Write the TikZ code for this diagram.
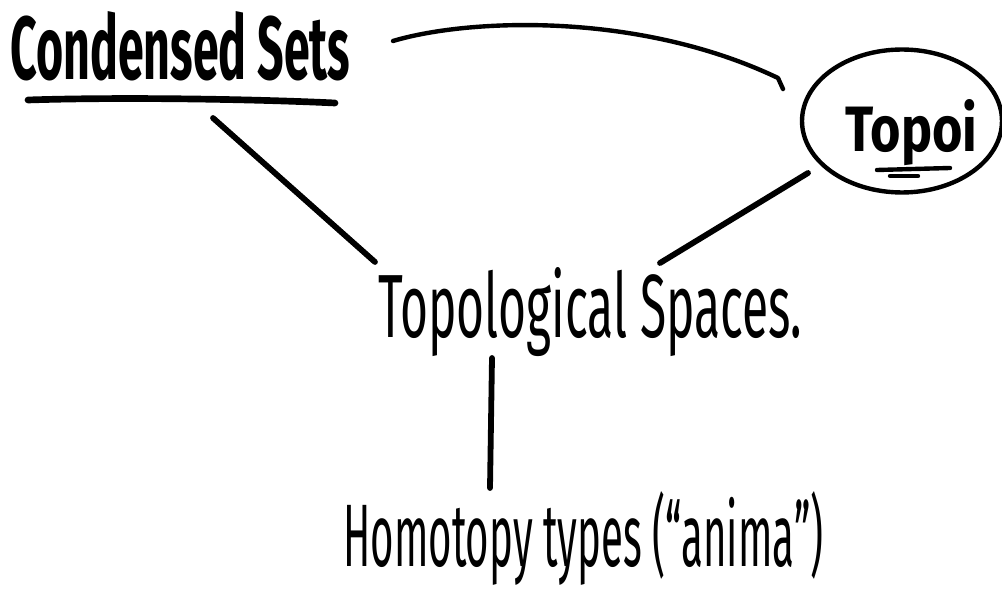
\documentclass[tikz,border=0pt]{standalone}
\usepackage{fontspec}
\setmainfont{Fira Sans}
\usetikzlibrary{shapes.geometric}
\tikzset{
  lbl/.style={inner sep=0pt, anchor=base west},
  heavy/.style={font=\bfseries},
  stroke/.style={line width=3.3pt, line cap=round, line join=round},
  thin stroke/.style={line width=2.5pt, line cap=round, line join=round},
}
\begin{document}
\begin{tikzpicture}[x=0.02cm, y=-0.02cm]
\useasboundingbox (0,0) rectangle (1002,594);
% text nodes
\node[lbl, heavy] (cs) at (10,80) {\resizebox{6.8cm}{1.36cm}{Condensed Sets}};
\node[lbl, heavy] (topoi) at (845,152) {\resizebox{2.64cm}{1.04cm}{Topoi}};
\node[lbl] (top) at (378,338) {\resizebox{8.48cm}{1.4cm}{Topological Spaces.}};
\node[lbl] (homo) at (343,567) {\resizebox{9.6cm}{1.5cm}{Homotopy types (“anima”)}};
% circle round Topoi
\node[ellipse, draw, line width=2.5pt, minimum width=4cm, minimum height=2.86cm, inner sep=0pt] (topoicircle) at (902,121) {};
% underlines
\draw[stroke, line width=3.8pt] (28,100) .. controls (120,97) and (250,99) .. (335,103);
\draw[thin stroke] (877,170) -- (950,168);
\draw[thin stroke] (890,176) -- (918,176);
% connector end points
\coordinate (cs-a) at (393,41);
\coordinate (topoi-a) at (783,89);
\coordinate (cs-b) at (213,118);
\coordinate (top-a) at (375,262);
\coordinate (topoi-b) at (808,173);
\coordinate (top-b) at (660,263);
\coordinate (top-c) at (492,358);
\coordinate (homo-a) at (490,488);
% connectors
\draw[thin stroke] (cs-a) .. controls (470,18) and (640,12) .. (778,78) -- (topoi-a);
\draw[stroke] (cs-b) -- (top-a);
\draw[stroke] (topoi-b) -- (top-b);
\draw[stroke] (top-c) -- (homo-a);
\end{tikzpicture}
\end{document}
